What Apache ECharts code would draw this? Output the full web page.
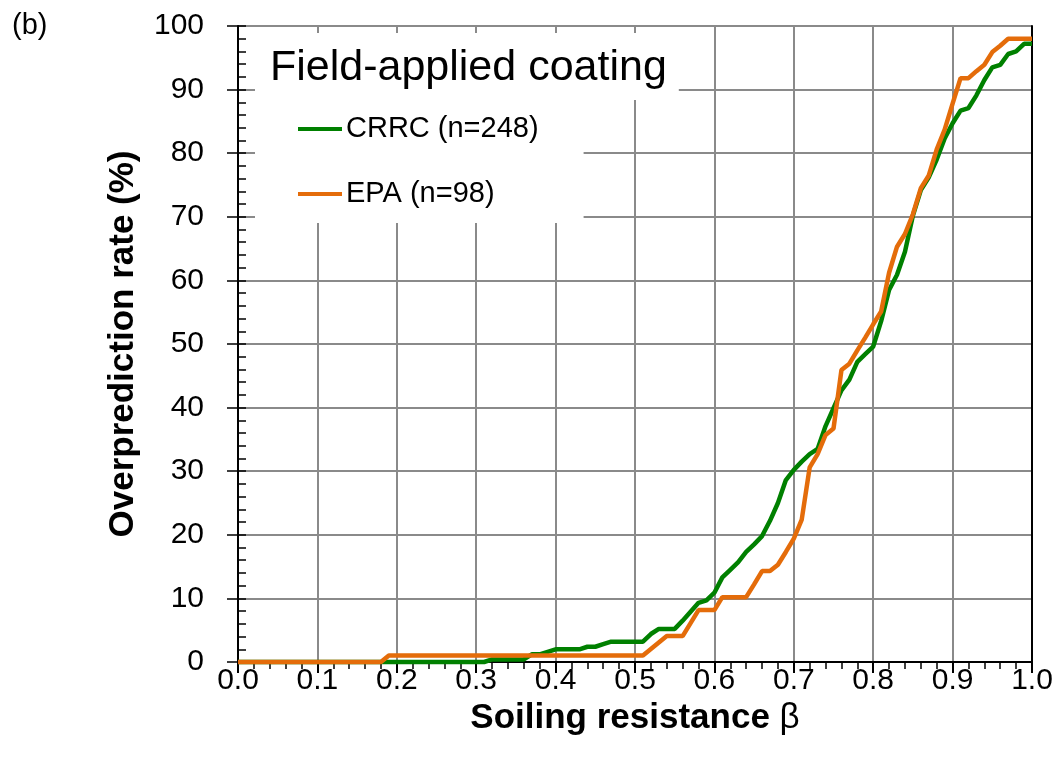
<!DOCTYPE html>
<html>
<head>
<meta charset="utf-8">
<script src="https://cdn.jsdelivr.net/npm/echarts@6/dist/echarts.min.js"></script>
<style>
  html, body { margin: 0; padding: 0; background: #fff; }
  #chart { width: 1061px; height: 772px; }
</style>
</head>
<body>
<div id="chart"></div>
<script>
// Soiling resistance β (x values)
const BETA = [
  0.00, 0.01, 0.02, 0.03, 0.04, 0.05, 0.06, 0.07, 0.08, 0.09,
  0.10, 0.11, 0.12, 0.13, 0.14, 0.15, 0.16, 0.17, 0.18, 0.19,
  0.20, 0.21, 0.22, 0.23, 0.24, 0.25, 0.26, 0.27, 0.28, 0.29,
  0.30, 0.31, 0.32, 0.33, 0.34, 0.35, 0.36, 0.37, 0.38, 0.39,
  0.40, 0.41, 0.42, 0.43, 0.44, 0.45, 0.46, 0.47, 0.48, 0.49,
  0.50, 0.51, 0.52, 0.53, 0.54, 0.55, 0.56, 0.57, 0.58, 0.59,
  0.60, 0.61, 0.62, 0.63, 0.64, 0.65, 0.66, 0.67, 0.68, 0.69,
  0.70, 0.71, 0.72, 0.73, 0.74, 0.75, 0.76, 0.77, 0.78, 0.79,
  0.80, 0.81, 0.82, 0.83, 0.84, 0.85, 0.86, 0.87, 0.88, 0.89,
  0.90, 0.91, 0.92, 0.93, 0.94, 0.95, 0.96, 0.97, 0.98, 0.99,
  1.00
];

// overprediction rate (%), CRRC n=248
const CRRC = [
  0, 0, 0, 0, 0, 0, 0, 0, 0, 0,
  0, 0, 0, 0, 0, 0, 0, 0, 0, 0,
  0, 0, 0, 0, 0, 0, 0, 0, 0, 0,
  0, 0, 0.4, 0.4, 0.4, 0.4, 0.4, 1.2, 1.2, 1.6,
  2.0, 2.0, 2.0, 2.0, 2.4, 2.4, 2.8, 3.2, 3.2, 3.2,
  3.2, 3.2, 4.4, 5.2, 5.2, 5.2, 6.5, 7.9, 9.3, 9.7,
  10.9, 13.3, 14.5, 15.7, 17.3, 18.5, 19.8, 22.2, 25.0, 28.6,
  30.2, 31.5, 32.7, 33.5, 37.1, 39.9, 42.7, 44.4, 47.2, 48.4,
  49.6, 53.6, 58.5, 60.9, 64.5, 70.2, 74.2, 76.2, 79.0, 82.3,
  84.7, 86.7, 87.1, 89.1, 91.5, 93.5, 93.9, 95.6, 96.0, 97.2,
  97.2
];

// overprediction rate (%), EPA n=98
const EPA = [
  0, 0, 0, 0, 0, 0, 0, 0, 0, 0,
  0, 0, 0, 0, 0, 0, 0, 0, 0, 1.02,
  1.02, 1.02, 1.02, 1.02, 1.02, 1.02, 1.02, 1.02, 1.02, 1.02,
  1.02, 1.02, 1.02, 1.02, 1.02, 1.02, 1.02, 1.02, 1.02, 1.02,
  1.02, 1.02, 1.02, 1.02, 1.02, 1.02, 1.02, 1.02, 1.02, 1.02,
  1.02, 1.02, 2.04, 3.06, 4.08, 4.08, 4.08, 6.12, 8.16, 8.16,
  8.16, 10.2, 10.2, 10.2, 10.2, 12.2, 14.3, 14.3, 15.3, 17.3,
  19.4, 22.4, 30.6, 32.7, 35.7, 36.7, 45.9, 46.9, 49.0, 51.0,
  53.1, 55.1, 61.2, 65.3, 67.3, 70.4, 74.5, 76.5, 80.6, 83.7,
  87.8, 91.8, 91.8, 92.9, 93.9, 95.9, 96.9, 98.0, 98.0, 98.0,
  98.0
];

const SERIES_NAMES = ['CRRC (n=248)', 'EPA (n=98)'];
const SERIES_COLORS = ['#008000', '#E46C0A'];

const FONT = "'Liberation Sans', Arial, sans-serif";

const chart = echarts.init(document.getElementById('chart'));

const pairs = (ys) => BETA.map((b, i) => [b, ys[i]]);

const option = {
    backgroundColor: '#fff',
    animation: false,
    textStyle: { fontFamily: FONT, color: '#000' },
    title: {
        text: 'Field-applied coating',
        left: 255,
        top: 33,
        padding: [10, 12, 7, 15],
        backgroundColor: '#fff',
        textStyle: { fontFamily: FONT, fontSize: 43, fontWeight: 'normal', color: '#000', lineHeight: 50 }
    },
    legend: {
        orient: 'vertical',
        left: 255,
        top: 100,
        padding: [14, 45, 14, 43],
        backgroundColor: '#fff',
        icon: 'rect',
        itemWidth: 44,
        itemHeight: 4,
        itemGap: 35,
        textStyle: { fontFamily: FONT, fontSize: 29, color: '#000', padding: [0, 0, 0, -1], lineHeight: 30 },
        data: SERIES_NAMES
    },
    graphic: [{
        type: 'text',
        left: 12,
        top: 11,
        style: { text: '(b)', font: '29px ' + FONT, fill: '#000' }
    }],
    grid: {
        left: 238,
        right: 29,
        top: 26,
        bottom: 110,
        containLabel: false,
        outerBoundsMode: 'none'
    },
    xAxis: [{
        type: 'value',
        min: 0,
        max: 1,
        interval: 0.1,
        name: '{b|Soiling resistance }{n|β}',
        nameLocation: 'middle',
        nameGap: 37,
        nameTextStyle: {
            rich: {
                b: { fontFamily: FONT, fontSize: 35, fontWeight: 'bold', color: '#000' },
                n: { fontFamily: FONT, fontSize: 35, fontWeight: 'normal', color: '#000' }
            }
        },
        axisLine: { lineStyle: { color: '#000', width: 2 } },
        axisTick: { inside: false, length: 11, lineStyle: { color: '#000', width: 2 } },
        minorTick: { show: true, splitNumber: 5, length: 7, lineStyle: { color: '#000', width: 1.5 } },
        axisLabel: {
            margin: 4,
            fontFamily: FONT,
            fontSize: 30,
            color: '#000',
            formatter: (v) => v.toFixed(1)
        },
        splitLine: { show: true, lineStyle: { color: '#8a8a8a', width: 2 } }
    }, {
        // top frame
        type: 'value',
        position: 'top',
        min: 0,
        max: 1,
        z: 3,
        axisLine: { show: true, lineStyle: { color: '#000', width: 2 } },
        axisTick: { show: false },
        axisLabel: { show: false },
        splitLine: { show: false }
    }],
    yAxis: [{
        type: 'value',
        min: 0,
        max: 100,
        interval: 10,
        position: 'left',
        name: 'Overprediction rate (%)',
        nameLocation: 'middle',
        nameGap: 97,
        nameTextStyle: { fontFamily: FONT, fontSize: 35, fontWeight: 'bold', color: '#000' },
        axisLine: { show: true, lineStyle: { color: '#000', width: 2 } },
        axisTick: { show: true, inside: false, length: 11, lineStyle: { color: '#000', width: 1.5 } },
        axisLabel: { margin: 34, fontFamily: FONT, fontSize: 30, color: '#000' },
        splitLine: { show: true, lineStyle: { color: '#8a8a8a', width: 2 } }
    }, {
        // inside minor ticks on the left
        type: 'value',
        min: 0,
        max: 100,
        interval: 2,
        position: 'left',
        z: 3,
        axisLine: { show: false },
        axisTick: { show: true, inside: true, length: 8, lineStyle: { color: '#000', width: 1.5 } },
        axisLabel: { show: false },
        splitLine: { show: false }
    }, {
        // right frame
        type: 'value',
        min: 0,
        max: 100,
        position: 'right',
        z: 3,
        axisLine: { show: true, lineStyle: { color: '#000', width: 2 } },
        axisTick: { show: false },
        axisLabel: { show: false },
        splitLine: { show: false }
    }],
    series: [{
        name: SERIES_NAMES[0],
        type: 'line',
        xAxisIndex: 0,
        yAxisIndex: 0,
        data: pairs(CRRC),
        symbol: 'none',
        clip: false,
        z: 4,
        itemStyle: { color: SERIES_COLORS[0] },
        lineStyle: { color: SERIES_COLORS[0], width: 4.5 }
    }, {
        name: SERIES_NAMES[1],
        type: 'line',
        xAxisIndex: 0,
        yAxisIndex: 0,
        data: pairs(EPA),
        symbol: 'none',
        clip: false,
        z: 4,
        itemStyle: { color: SERIES_COLORS[1] },
        lineStyle: { color: SERIES_COLORS[1], width: 4.5 }
    }]
};

chart.setOption(option);
window.addEventListener('resize', () => chart.resize());
</script>
</body>
</html>
